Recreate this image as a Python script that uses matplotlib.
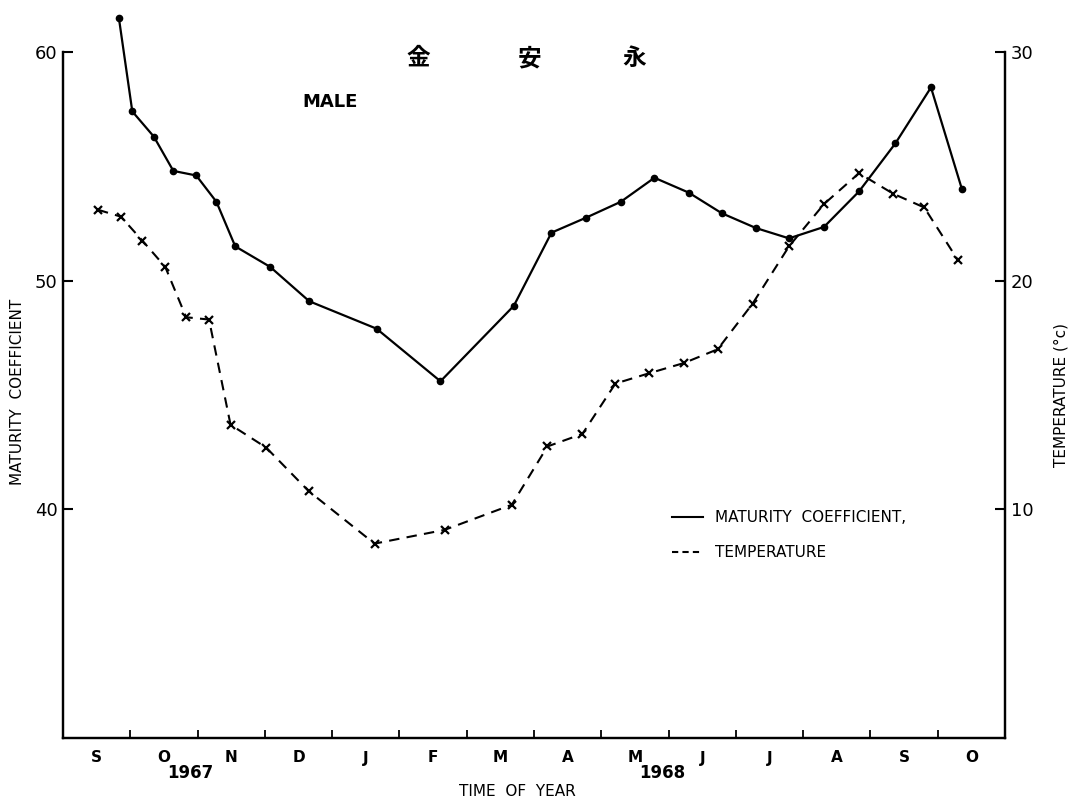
import matplotlib
matplotlib.use('Agg')
from matplotlib import pyplot as plt
from matplotlib.lines import Line2D

plt.rcParams['font.family'] = ['DejaVu Sans', 'Noto Sans CJK KR']

# months since 1 Sep 1967
mat_x = [0.83, 1.03, 1.35, 1.64, 1.98, 2.28, 2.56, 3.08, 3.66, 4.66, 5.61, 6.70,
         7.26, 7.77, 8.29, 8.79, 9.30, 9.79, 10.30, 10.79, 11.31, 11.83, 12.37, 12.90, 13.36]
maturity = [61.5, 57.4, 56.3, 54.8, 54.6, 53.45, 51.5, 50.6, 49.1, 47.9, 45.6, 48.9,
            52.1, 52.75, 53.45, 54.5, 53.85, 52.95, 52.3, 51.85, 52.35, 53.9, 56.0, 58.45, 54.0]

temp_x = [0.52, 0.86, 1.18, 1.52, 1.83, 2.17, 2.49, 3.02, 3.65, 4.63, 5.67, 6.67,
          7.20, 7.72, 8.21, 8.71, 9.23, 9.73, 10.25, 10.79, 11.31, 11.83, 12.34, 12.80, 13.30]
temperature = [23.1, 22.8, 21.75, 20.6, 18.4, 18.3, 13.7, 12.7, 10.8, 8.5, 9.1, 10.2,
               12.75, 13.3, 15.5, 15.95, 16.4, 17.0, 19.0, 21.5, 23.35, 24.7, 23.8, 23.2, 20.9]

month_labels = ['S', 'O', 'N', 'D', 'J', 'F', 'M', 'A', 'M', 'J', 'J', 'A', 'S', 'O']


def make_plot():
    fig = plt.figure(figsize=(10.71, 8.01), dpi=100)
    ax = fig.add_axes([63 / 1071, 63 / 801, 942 / 1071, 686 / 801])
    ax2 = ax.twinx()

    ax.plot(mat_x, maturity, color='black', lw=1.6, marker='o', ms=4.5, clip_on=False)
    ax2.plot(temp_x, temperature, color='black', lw=1.5, ls=(0, (5, 3.5)),
             marker='x', ms=6, mew=1.6, clip_on=False)

    ax.set_xlim(0, 14)
    ax.set_ylim(30, 60)
    ax2.set_ylim(0, 30)

    for a in (ax, ax2):
        a.spines['top'].set_visible(False)
        for s in a.spines.values():
            s.set_linewidth(1.6)

    ax.set_yticks([40, 50, 60])
    ax.tick_params(axis='y', direction='in', length=7, width=1.5, labelsize=13, pad=4)
    ax2.set_yticks([10, 20, 30])
    ax2.tick_params(axis='y', direction='in', length=7, width=1.5, labelsize=13, pad=4)

    ax.set_xticks([m + 0.5 for m in range(14)])
    ax.set_xticklabels(month_labels, fontsize=11, fontweight='bold')
    ax.set_xticks(list(range(1, 14)), minor=True)
    ax.tick_params(axis='x', which='major', length=0, pad=9)
    ax.tick_params(axis='x', which='minor', direction='in', length=6, width=1.3)

    ax.set_ylabel('MATURITY  COEFFICIENT', fontsize=11)
    ax.yaxis.set_label_coords(-0.040, 0.505)
    ax2.set_ylabel('TEMPERATURE (°c)', fontsize=11)
    ax2.yaxis.set_label_coords(1.052, 0.5)

    fig.text(190 / 1071, 1 - 773 / 801, '1967', fontsize=12, fontweight='bold', ha='center', va='center')
    fig.text(662 / 1071, 1 - 773 / 801, '1968', fontsize=12, fontweight='bold', ha='center', va='center')
    fig.text(517 / 1071, 1 - 791 / 801, 'TIME  OF  YEAR', fontsize=11, ha='center', va='center')

    for ch, x in zip(['金', '安', '永'], [418, 530, 634]):
        fig.text(x / 1071, 1 - 58 / 801, ch, fontsize=17, fontweight='bold',
                 family=['Noto Sans CJK KR'], ha='center', va='center')
    fig.text(330 / 1071, 1 - 102 / 801, 'MALE', fontsize=13, fontweight='bold',
             ha='center', va='center')

    handles = [Line2D([], [], color='black', lw=1.5, ls='-'),
               Line2D([], [], color='black', lw=1.5, ls=(0, (3, 2)))]
    ax.legend(handles, ['MATURITY  COEFFICIENT,', 'TEMPERATURE'], loc='upper left',
              bbox_to_anchor=(666 / 1071, 1 - 504 / 801), bbox_transform=fig.transFigure,
              frameon=False, fontsize=11, handlelength=2.0, handletextpad=0.8,
              labelspacing=1.3, borderaxespad=0)

    plt.savefig('out.png', dpi=100)


if __name__ == '__main__':
    make_plot()
